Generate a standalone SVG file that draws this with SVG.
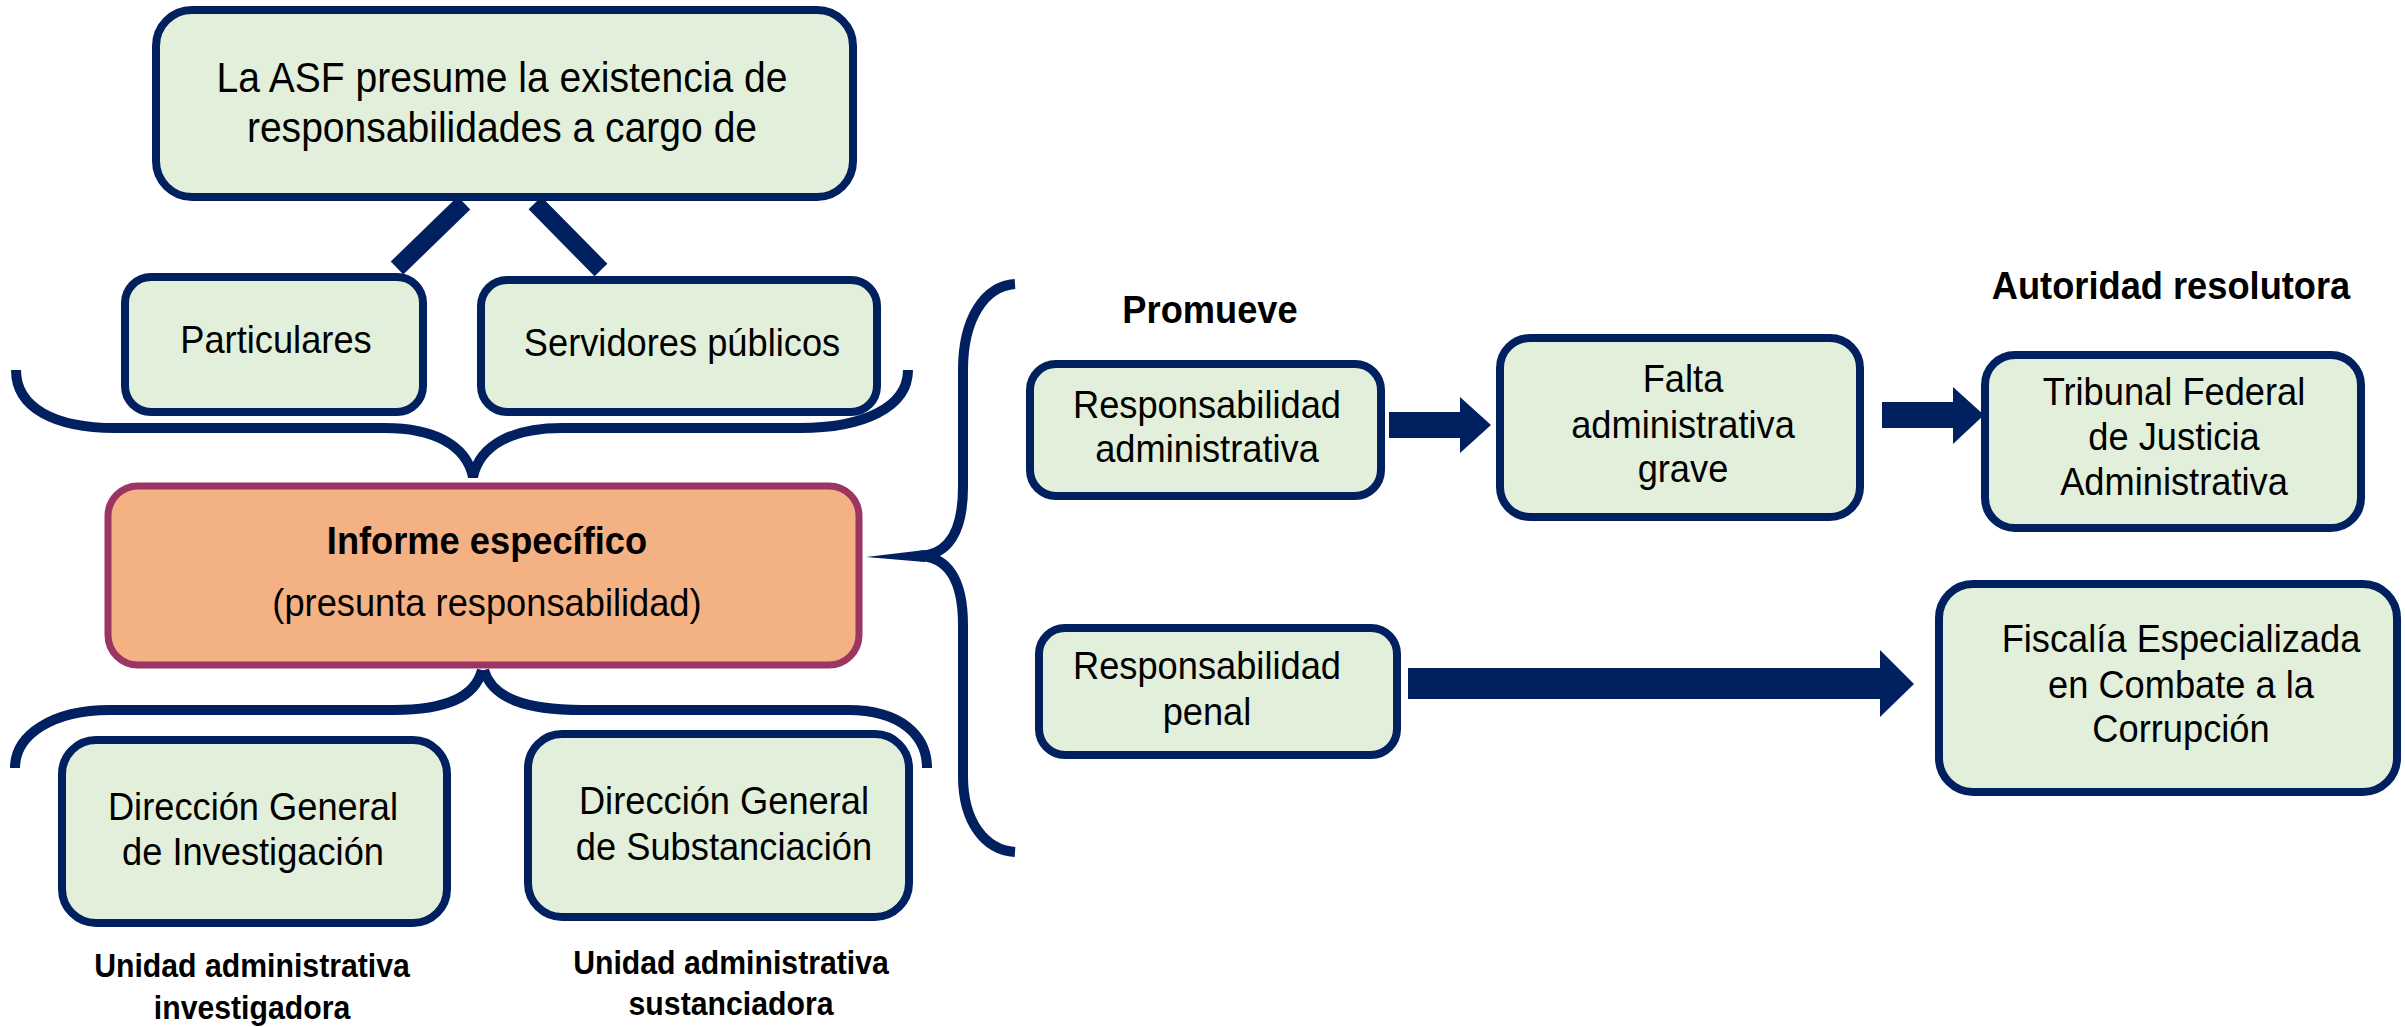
<svg xmlns="http://www.w3.org/2000/svg" width="2405" height="1027" viewBox="0 0 2405 1027">
<style>
.box{fill:#E2EFDA;stroke:#002060;stroke-width:8}
.org{fill:#F4B183;stroke:#9C3464;stroke-width:7}
.t{font-family:"Liberation Sans",Arial,sans-serif;font-size:39px;fill:#000;text-anchor:middle;transform-box:fill-box;transform-origin:center;transform:scaleX(0.93)}
.tl{font-size:42px}
.b{font-weight:bold;font-size:39px}
.bs{font-weight:bold;font-size:32.5px}
.br{fill:none;stroke:#002060;stroke-width:10}
.ar{fill:#002060}
</style>
<rect width="2405" height="1027" fill="#fff"/>
<g id="connectors">
<line x1="464" y1="203" x2="397" y2="268" stroke="#002060" stroke-width="18"/>
<line x1="535" y1="203" x2="601" y2="270" stroke="#002060" stroke-width="18"/>
<path class="br" d="M16 370 C16 408 55 428 115 428 L385 428 C432 428 466 444 473 477 C480 444 514 428 562 428 L800 428 C862 428 908 408 908 370"/>
<path class="br" d="M482 670 C475 698 445 710 394 710 L110 710 C52 710 15 735 15 768"/>
<path class="br" d="M484 670 C492 698 525 710 582 710 L848 710 C900 710 927 735 927 768"/>
<path class="br" d="M1015 284 C985 286 963 318 963 370 L963 487 C963 532 948 556 918 556"/>
<path class="br" d="M918 556 C948 556 963 580 963 625 L963 776 C963 822 985 850 1015 852"/>
<polygon class="ar" points="925,550 925,562 866,557"/>
<polygon class="ar" points="1389,412 1460,412 1460,397 1491,425 1460,453 1460,438 1389,438"/>
<polygon class="ar" points="1882,402 1953,402 1953,387 1984,415 1953,444 1953,428 1882,428"/>
<polygon class="ar" points="1408,668 1880,668 1880,650 1914,684 1880,717 1880,699 1408,699"/>
</g>
<g id="n-asf">
<rect class="box" x="156" y="10" width="697" height="187" rx="36"/>
<text class="t tl" x="502" y="92">La ASF presume la existencia de</text>
<text class="t tl" x="502" y="142">responsabilidades a cargo de</text>
</g>
<g id="n-particulares">
<rect class="box" x="125" y="277" width="298" height="135" rx="26"/>
<text class="t" x="276" y="353">Particulares</text>
</g>
<g id="n-servidores">
<rect class="box" x="481" y="280" width="396" height="132" rx="26"/>
<text class="t" x="682" y="356">Servidores públicos</text>
</g>
<g id="n-informe">
<rect class="org" x="108" y="486" width="751" height="179" rx="30"/>
<text class="t b" x="487" y="554">Informe específico</text>
<text class="t" x="487" y="616">(presunta responsabilidad)</text>
</g>
<g id="n-dgi">
<rect class="box" x="62" y="740" width="385" height="183" rx="34"/>
<text class="t" x="253" y="820">Dirección General</text>
<text class="t" x="253" y="865">de Investigación</text>
</g>
<g id="n-dgs">
<rect class="box" x="528" y="734" width="381" height="183" rx="34"/>
<text class="t" x="724" y="814">Dirección General</text>
<text class="t" x="724" y="860">de Substanciación</text>
</g>
<g id="l-investigadora">
<text class="t bs" x="252" y="977">Unidad administrativa</text>
<text class="t bs" x="252" y="1019">investigadora</text>
</g>
<g id="l-sustanciadora">
<text class="t bs" x="731" y="974">Unidad administrativa</text>
<text class="t bs" x="731" y="1015">sustanciadora</text>
</g>
<g id="l-promueve"><text class="t b" x="1210" y="323">Promueve</text></g>
<g id="l-autoridad"><text class="t b" x="2171" y="299">Autoridad resolutora</text></g>
<g id="n-resp-adm">
<rect class="box" x="1030" y="364" width="351" height="132" rx="26"/>
<text class="t" x="1207" y="418">Responsabilidad</text>
<text class="t" x="1207" y="462">administrativa</text>
</g>
<g id="n-falta">
<rect class="box" x="1500" y="338" width="360" height="179" rx="30"/>
<text class="t" x="1683" y="392">Falta</text>
<text class="t" x="1683" y="438">administrativa</text>
<text class="t" x="1683" y="482">grave</text>
</g>
<g id="n-tribunal">
<rect class="box" x="1985" y="355" width="376" height="173" rx="30"/>
<text class="t" x="2174" y="405">Tribunal Federal</text>
<text class="t" x="2174" y="450">de Justicia</text>
<text class="t" x="2174" y="495">Administrativa</text>
</g>
<g id="n-resp-penal">
<rect class="box" x="1039" y="628" width="358" height="127" rx="26"/>
<text class="t" x="1207" y="679">Responsabilidad</text>
<text class="t" x="1207" y="725">penal</text>
</g>
<g id="n-fiscalia">
<rect class="box" x="1939" y="584" width="458" height="208" rx="34"/>
<text class="t" x="2181" y="652">Fiscalía Especializada</text>
<text class="t" x="2181" y="698">en Combate a la</text>
<text class="t" x="2181" y="742">Corrupción</text>
</g>
</svg>
